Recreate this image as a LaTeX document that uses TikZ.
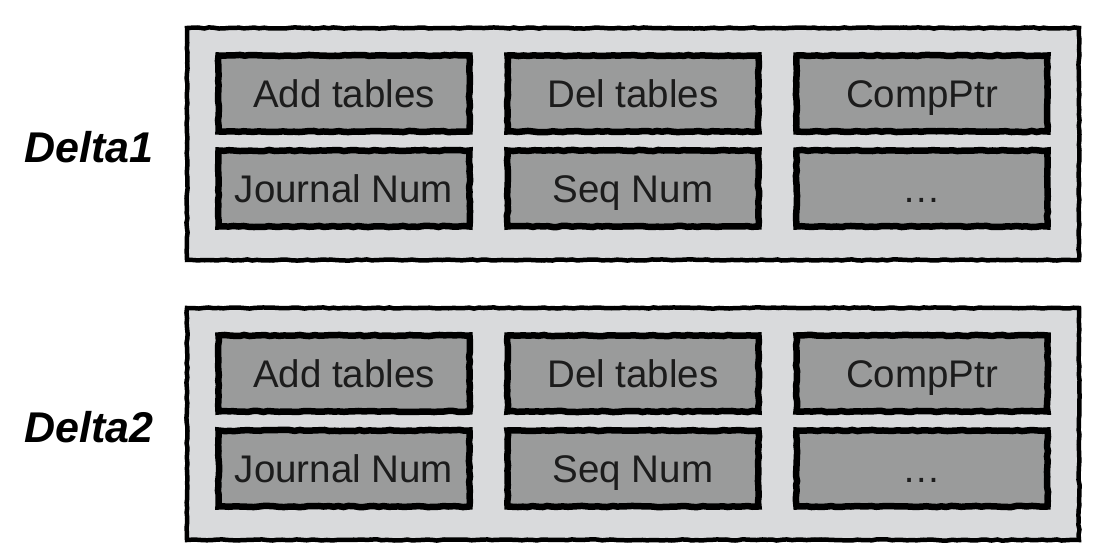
\documentclass[tikz,border=0pt]{standalone}
\usepackage{fontspec}
\setmainfont{Liberation Sans}
\usetikzlibrary{decorations.pathmorphing}

\definecolor{panelgray}{HTML}{D9DADC}
\definecolor{fieldgray}{HTML}{9A9B9B}
\definecolor{inkgray}{HTML}{1C1C1C}

\tikzset{
  rough/.style={decorate, decoration={random steps, segment length=5pt, amplitude=0.6pt}},
  scratch/.style={postaction={draw=black, line width=1.6pt, decorate,
      decoration={random steps, segment length=2.5pt, amplitude=1.4pt}}},
  panel/.style={draw=black, fill=panelgray, line width=4.5pt, rough, scratch,
      minimum width=892pt, minimum height=232pt},
  field/.style={draw=black, fill=fieldgray, line width=6.5pt, rough, scratch,
      minimum width=251pt, minimum height=76pt, text=inkgray,
      text height=28pt, text depth=0pt, inner sep=0pt,
      font=\fontsize{38.5}{44}\selectfont},
  deltaname/.style={font=\fontsize{43}{48}\selectfont\bfseries\itshape}
}

\begin{document}
\begin{tikzpicture}[node distance=289pt]
    \useasboundingbox (0,0) rectangle (1098pt,-553pt);

    % first delta
    \node (d1box) [panel] at (633pt,-144pt) {};
    \node (d1name) [deltaname] at (89pt,-147pt) {Delta1};
    \node (d1add) [field] at (344pt,-93.5pt) {Add tables};
    \node (d1del) [field, right of=d1add] {Del tables};
    \node (d1comp) [field, right of=d1del] {CompPtr};
    \node (d1jnum) [field] at (344pt,-188.5pt) {Journal Num};
    \node (d1seq) [field, right of=d1jnum] {Seq Num};
    \node (d1more) [field, right of=d1seq] {\ldots};

    % second delta
    \node (d2box) [panel] at (633pt,-424pt) {};
    \node (d2name) [deltaname] at (89pt,-427pt) {Delta2};
    \node (d2add) [field] at (344pt,-373.5pt) {Add tables};
    \node (d2del) [field, right of=d2add] {Del tables};
    \node (d2comp) [field, right of=d2del] {CompPtr};
    \node (d2jnum) [field] at (344pt,-468.5pt) {Journal Num};
    \node (d2seq) [field, right of=d2jnum] {Seq Num};
    \node (d2more) [field, right of=d2seq] {\ldots};
\end{tikzpicture}
\end{document}
